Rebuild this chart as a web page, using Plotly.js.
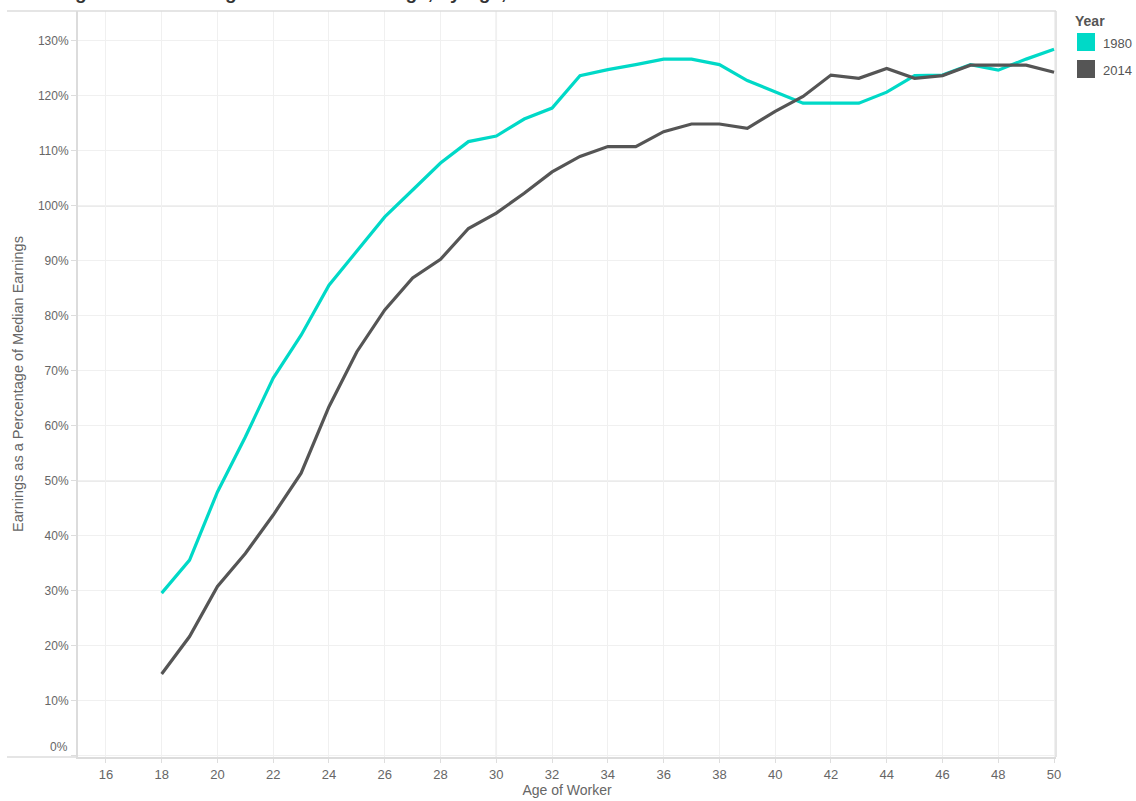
<!DOCTYPE html>
<html>
<head>
<meta charset="utf-8">
<script src="https://cdn.plot.ly/plotly-3.0.1.min.js"></script>
<style>
  html, body { margin: 0; padding: 0; background: #ffffff; }
  #chart { width: 1136px; height: 801px; }
</style>
</head>
<body>
<div id="chart"></div>
<script>
// ---- Data ----
const ages = [18, 19, 20, 21, 22, 23, 24, 25, 26, 27, 28, 29, 30, 31, 32, 33, 34,
              35, 36, 37, 38, 39, 40, 41, 42, 43, 44, 45, 46, 47, 48, 49, 50];
const earnings1980 = [29.6, 35.6, 48.0, 58.0, 68.7, 76.5, 85.6, 91.7, 98.0, 102.9, 107.8,
                      111.7, 112.7, 115.8, 117.8, 123.7, 124.8, 125.7, 126.7, 126.7, 125.7,
                      122.8, 120.8, 118.7, 118.7, 118.7, 120.7, 123.7, 123.8, 125.7, 124.7,
                      126.7, 128.5];
const earnings2014 = [14.9, 21.7, 30.8, 36.8, 43.8, 51.4, 63.5, 73.5, 81.1, 86.9, 90.3,
                      95.9, 98.7, 102.3, 106.2, 109.0, 110.8, 110.8, 113.5, 114.9, 114.9,
                      114.1, 117.2, 119.9, 123.8, 123.2, 125.0, 123.2, 123.7, 125.6, 125.6,
                      125.6, 124.3];
const seriesNames = ['1980', '2014'];
const xTickVals = [16, 18, 20, 22, 24, 26, 28, 30, 32, 34, 36, 38, 40, 42, 44, 46, 48, 50];
const yTickVals = [0, 10, 20, 30, 40, 50, 60, 70, 80, 90, 100, 110, 120, 130];
const yTickText = ['', '10%', '20%', '30%', '40%', '50%', '60%', '70%', '80%', '90%',
                   '100%', '110%', '120%', '130%'];
const titleText = 'Earnings as a Percentage of Median Earnings, by Age, 1980 and 2014';
const xTitle = 'Age of Worker';
const yTitle = 'Earnings as a Percentage of Median Earnings';
const legendTitle = 'Year';

// ---- Styling ----
const colors = ['#00d9c7', '#555555'];
const W = 1136, H = 801;
const M = {l: 78, r: 80, t: 11, b: 44};
const PW = W - M.l - M.r, PH = H - M.t - M.b;
const px2x = p => (p - M.l) / PW;
const py2y = p => (H - M.b - p) / PH;

const tickFont = {family: 'Liberation Sans, Arial, sans-serif', size: 12, color: '#666666'};
const narrowFont = {family: 'Liberation Sans Narrow, Arial Narrow, Liberation Sans, Arial, sans-serif', size: 13, color: '#666666'};

const traces = [
  {x: ages, y: earnings1980, name: seriesNames[0], type: 'scatter', mode: 'lines',
   line: {color: colors[0], width: 3.2}, showlegend: false, hoverinfo: 'skip'},
  {x: ages, y: earnings2014, name: seriesNames[1], type: 'scatter', mode: 'lines',
   line: {color: colors[1], width: 3.2}, showlegend: false, hoverinfo: 'skip'}
];

const frameColor = '#dcdcdc';
const shapes = [
  // emphasised grid lines
  {type: 'line', xref: 'x', yref: 'paper', x0: 30, x1: 30, y0: 0, y1: 1,
   line: {color: '#e4e4e4', width: 1.5}, layer: 'below'},
  {type: 'line', xref: 'paper', yref: 'y', x0: 0, x1: 1, y0: 50, y1: 50,
   line: {color: '#e4e4e4', width: 1.5}, layer: 'below'},
  {type: 'line', xref: 'paper', yref: 'y', x0: 0, x1: 1, y0: 100, y1: 100,
   line: {color: '#e4e4e4', width: 1.5}, layer: 'below'},
  // frame: top, right, left-panel bottom
  {type: 'line', xref: 'paper', yref: 'paper', x0: px2x(7), x1: 1, y0: 1, y1: 1,
   line: {color: frameColor, width: 1.5}},
  {type: 'line', xref: 'paper', yref: 'paper', x0: 1, x1: 1, y0: 0, y1: 1,
   line: {color: frameColor, width: 1.5}},
  {type: 'line', xref: 'paper', yref: 'paper', x0: px2x(7), x1: 0, y0: 0, y1: 0,
   line: {color: frameColor, width: 1.5}},
  // legend swatches
  {type: 'rect', xref: 'paper', yref: 'paper', x0: px2x(1077), x1: px2x(1095),
   y0: py2y(51), y1: py2y(33), fillcolor: colors[0], line: {width: 0}},
  {type: 'rect', xref: 'paper', yref: 'paper', x0: px2x(1077), x1: px2x(1095),
   y0: py2y(78), y1: py2y(60), fillcolor: colors[1], line: {width: 0}}
];

const annotations = [
  {text: '<b>' + titleText + '</b>', xref: 'paper', yref: 'paper',
   x: px2x(14), y: py2y(5), xanchor: 'left', yanchor: 'bottom', showarrow: false,
   font: {family: 'Liberation Sans, Arial, sans-serif', size: 19, color: '#333333'}},
  {text: '0%', xref: 'paper', yref: 'y', x: 0, y: 0, xanchor: 'right', yanchor: 'middle',
   xshift: -8, yshift: 9, showarrow: false, font: tickFont},
  {text: '<b>' + legendTitle + '</b>', xref: 'paper', yref: 'paper', x: px2x(1073),
   y: py2y(21), xanchor: 'left', yanchor: 'middle', showarrow: false,
   font: {family: 'Liberation Sans, Arial, sans-serif', size: 14, color: '#555555'}},
  {text: seriesNames[0], xref: 'paper', yref: 'paper', x: px2x(1101), y: py2y(43),
   xanchor: 'left', yanchor: 'middle', showarrow: false,
   font: {family: 'Liberation Sans, Arial, sans-serif', size: 13, color: '#555555'}},
  {text: seriesNames[1], xref: 'paper', yref: 'paper', x: px2x(1101), y: py2y(70),
   xanchor: 'left', yanchor: 'middle', showarrow: false,
   font: {family: 'Liberation Sans, Arial, sans-serif', size: 13, color: '#555555'}}
];

const layout = {
  width: W, height: H,
  margin: M,
  paper_bgcolor: '#ffffff', plot_bgcolor: '#ffffff',
  showlegend: false,
  xaxis: {
    range: [15, 50.07], tickvals: xTickVals, ticktext: xTickVals.map(String),
    showgrid: true, gridcolor: '#f0f0f0', gridwidth: 1,
    showline: true, linecolor: frameColor, linewidth: 2,
    ticks: 'outside', ticklen: 4, tickcolor: '#dddddd', tickwidth: 1,
    tickfont: narrowFont, zeroline: false, fixedrange: true,
    title: {text: xTitle, font: {family: narrowFont.family, size: 14, color: '#666666'}, standoff: 3}
  },
  yaxis: {
    range: [-0.2, 135.45], tickvals: yTickVals, ticktext: yTickText,
    showgrid: true, gridcolor: '#f0f0f0', gridwidth: 1,
    showline: true, linecolor: frameColor, linewidth: 2,
    ticks: 'outside', ticklen: 5, tickcolor: '#dddddd', tickwidth: 1,
    tickfont: tickFont, zeroline: false, fixedrange: true,
    title: {text: yTitle, font: {family: narrowFont.family, size: 14.5, color: '#666666'}, standoff: 11}
  },
  shapes: shapes,
  annotations: annotations
};

Plotly.newPlot('chart', traces, layout, {staticPlot: true, displayModeBar: false});
</script>
</body>
</html>
